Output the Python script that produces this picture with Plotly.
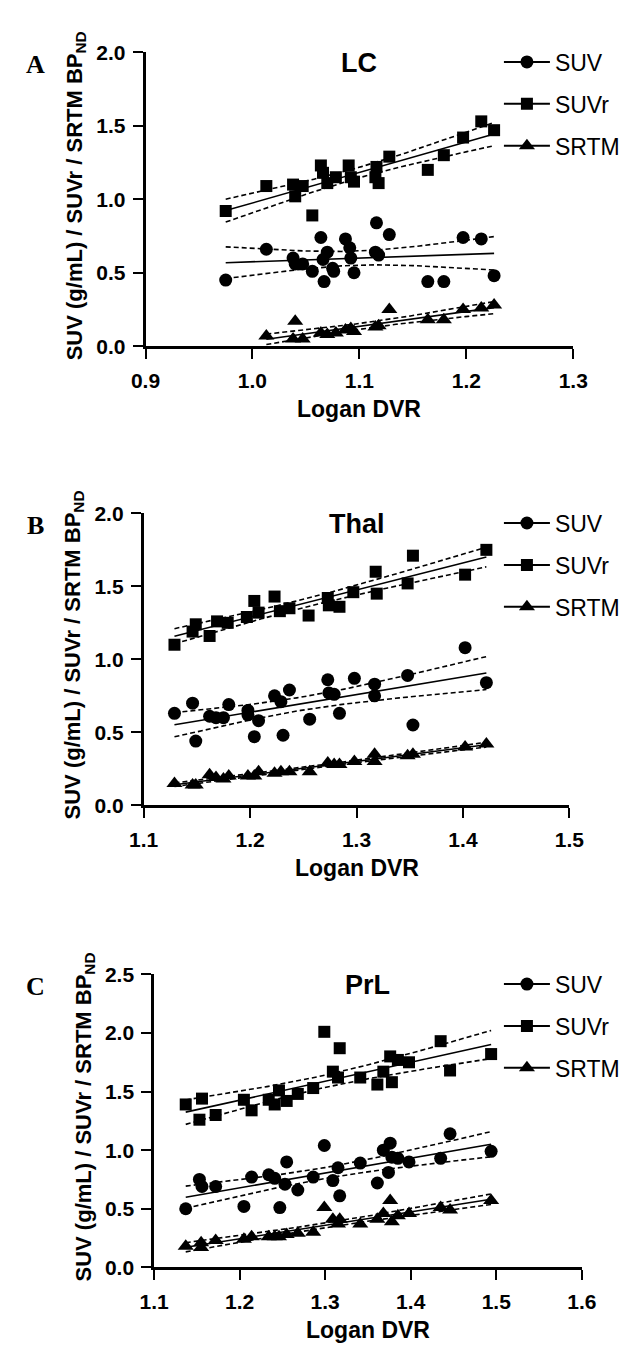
import numpy as np
import plotly.graph_objects as go

W, H = 633, 1356

# ---------------- data ----------------
A_suv_x = [0.975, 1.013, 1.038, 1.040, 1.047, 1.056, 1.064, 1.066, 1.067, 1.070, 1.075, 1.076, 1.087, 1.091, 1.092, 1.095, 1.115, 1.116, 1.118, 1.128, 1.164, 1.179, 1.197, 1.214, 1.226]
A_suv_y = [0.45, 0.66, 0.60, 0.56, 0.56, 0.51, 0.74, 0.59, 0.44, 0.64, 0.53, 0.51, 0.73, 0.67, 0.60, 0.50, 0.64, 0.84, 0.62, 0.76, 0.44, 0.44, 0.74, 0.73, 0.48]
A_suvr_x = [0.975, 1.013, 1.038, 1.040, 1.047, 1.056, 1.064, 1.066, 1.070, 1.078, 1.090, 1.092, 1.095, 1.115, 1.116, 1.118, 1.128, 1.164, 1.179, 1.197, 1.214, 1.226]
A_suvr_y = [0.92, 1.09, 1.10, 1.02, 1.09, 0.89, 1.23, 1.18, 1.11, 1.15, 1.23, 1.15, 1.12, 1.15, 1.22, 1.11, 1.29, 1.20, 1.30, 1.42, 1.53, 1.47]
A_srtm_x = [1.013, 1.038, 1.040, 1.047, 1.064, 1.070, 1.078, 1.087, 1.092, 1.095, 1.115, 1.118, 1.128, 1.164, 1.179, 1.197, 1.214, 1.226]
A_srtm_y = [0.07, 0.05, 0.17, 0.05, 0.09, 0.08, 0.09, 0.11, 0.12, 0.10, 0.13, 0.14, 0.25, 0.18, 0.18, 0.25, 0.26, 0.28]

B_suv_x = [1.129, 1.146, 1.149, 1.162, 1.168, 1.175, 1.180, 1.198, 1.198, 1.204, 1.208, 1.223, 1.229, 1.231, 1.237, 1.256, 1.273, 1.274, 1.279, 1.284, 1.298, 1.317, 1.317, 1.348, 1.353, 1.402, 1.422]
B_suv_y = [0.63, 0.70, 0.44, 0.61, 0.60, 0.60, 0.69, 0.62, 0.65, 0.47, 0.58, 0.75, 0.71, 0.48, 0.79, 0.59, 0.86, 0.77, 0.76, 0.63, 0.87, 0.83, 0.75, 0.89, 0.55, 1.08, 0.84]
B_suvr_x = [1.129, 1.146, 1.149, 1.162, 1.169, 1.179, 1.197, 1.204, 1.208, 1.223, 1.228, 1.237, 1.255, 1.273, 1.274, 1.284, 1.297, 1.318, 1.319, 1.348, 1.353, 1.402, 1.422]
B_suvr_y = [1.10, 1.19, 1.24, 1.16, 1.26, 1.25, 1.29, 1.40, 1.32, 1.43, 1.33, 1.35, 1.30, 1.42, 1.37, 1.36, 1.46, 1.60, 1.45, 1.52, 1.71, 1.58, 1.75]
B_srtm_x = [1.129, 1.146, 1.149, 1.162, 1.168, 1.175, 1.180, 1.198, 1.204, 1.208, 1.223, 1.229, 1.237, 1.256, 1.273, 1.279, 1.284, 1.298, 1.317, 1.317, 1.348, 1.353, 1.402, 1.422]
B_srtm_y = [0.15, 0.14, 0.14, 0.21, 0.19, 0.18, 0.20, 0.20, 0.20, 0.23, 0.22, 0.23, 0.23, 0.23, 0.29, 0.28, 0.28, 0.30, 0.35, 0.30, 0.34, 0.35, 0.40, 0.42]

C_suv_x = [1.137, 1.153, 1.156, 1.172, 1.205, 1.214, 1.234, 1.241, 1.247, 1.253, 1.255, 1.268, 1.286, 1.299, 1.309, 1.315, 1.317, 1.341, 1.361, 1.368, 1.374, 1.376, 1.378, 1.385, 1.398, 1.435, 1.446, 1.494]
C_suv_y = [0.50, 0.75, 0.69, 0.69, 0.52, 0.77, 0.79, 0.76, 0.51, 0.71, 0.90, 0.66, 0.77, 1.04, 0.74, 0.85, 0.61, 0.89, 0.72, 1.00, 0.81, 1.06, 0.94, 0.93, 0.90, 0.93, 1.14, 0.99]
C_suvr_x = [1.137, 1.153, 1.156, 1.172, 1.205, 1.214, 1.234, 1.241, 1.246, 1.255, 1.268, 1.286, 1.299, 1.309, 1.315, 1.317, 1.341, 1.361, 1.368, 1.376, 1.378, 1.385, 1.398, 1.435, 1.446, 1.494]
C_suvr_y = [1.39, 1.26, 1.44, 1.30, 1.43, 1.34, 1.43, 1.39, 1.51, 1.42, 1.48, 1.53, 2.01, 1.67, 1.62, 1.87, 1.62, 1.56, 1.67, 1.80, 1.58, 1.77, 1.75, 1.93, 1.68, 1.82]
C_srtm_x = [1.137, 1.155, 1.155, 1.172, 1.205, 1.214, 1.234, 1.241, 1.246, 1.255, 1.268, 1.286, 1.299, 1.309, 1.315, 1.317, 1.341, 1.361, 1.368, 1.376, 1.378, 1.385, 1.398, 1.435, 1.446, 1.494]
C_srtm_y = [0.18, 0.21, 0.17, 0.23, 0.24, 0.26, 0.26, 0.26, 0.26, 0.28, 0.29, 0.30, 0.51, 0.41, 0.37, 0.41, 0.37, 0.41, 0.46, 0.57, 0.39, 0.44, 0.46, 0.51, 0.49, 0.57]

panel_letters = ["A", "B", "C"]
panel_titles = ["LC", "Thal", "PrL"]
series_names = ["SUV", "SUVr", "SRTM"]
x_ranges = [[0.9, 1.3], [1.1, 1.5], [1.1, 1.6]]
y_ranges = [[0, 2.0], [0, 2.0], [0, 2.5]]
x_title = "Logan DVR"
y_title = "SUV (g/mL) / SUVr / SRTM BP<sub>ND</sub>"

panels = [
    [(A_suv_x, A_suv_y), (A_suvr_x, A_suvr_y), (A_srtm_x, A_srtm_y)],
    [(B_suv_x, B_suv_y), (B_suvr_x, B_suvr_y), (B_srtm_x, B_srtm_y)],
    [(C_suv_x, C_suv_y), (C_suvr_x, C_suvr_y), (C_srtm_x, C_srtm_y)],
]

# ---------------- layout geometry (pixels) ----------------
plot_px = [  # left, right, top, bottom
    (137, 586, 41, 340),
    (135, 582, 510, 807),
    (146, 595, 979, 1277),
]
symbols = ["circle", "square", "triangle-up"]
sizes = [13, 12, 14]


def px_x(p):
    return p / W


def px_y(p):
    return 1 - p / H


def tcrit(df):
    z = 1.959964
    return z + (z**3 + z) / (4 * df) + (5 * z**5 + 16 * z**3 + 3 * z) / (96 * df**2)


def fit(x, y):
    x = np.asarray(x, float)
    y = np.asarray(y, float)
    n = len(x)
    b, a = np.polyfit(x, y, 1)
    xs = np.linspace(x.min(), x.max(), 80)
    yh = a + b * xs
    res = y - (a + b * x)
    s = np.sqrt(np.sum(res**2) / (n - 2))
    sxx = np.sum((x - x.mean()) ** 2)
    se = s * np.sqrt(1.0 / n + (xs - x.mean()) ** 2 / sxx)
    t = tcrit(n - 2)
    return xs, yh, yh - t * se, yh + t * se


fig = go.Figure()
tick_font = dict(family="Arial, Liberation Sans", size=21, color="black", weight="bold")
annotations = []

for i in range(3):
    ax = "" if i == 0 else str(i + 1)
    xa, ya = "x" + ax, "y" + ax
    leg = "legend" + ax
    L, R, T, B = plot_px[i]
    for j, (xs_, ys_) in enumerate(panels[i]):
        xf, yf, lo, hi = fit(xs_, ys_)
        fig.add_trace(go.Scatter(x=xf, y=lo, mode="lines", line=dict(color="black", width=1.6, dash="5px,3px"),
                                 xaxis=xa, yaxis=ya, showlegend=False, hoverinfo="skip"))
        fig.add_trace(go.Scatter(x=xf, y=hi, mode="lines", line=dict(color="black", width=1.6, dash="5px,3px"),
                                 xaxis=xa, yaxis=ya, showlegend=False, hoverinfo="skip"))
        fig.add_trace(go.Scatter(x=xf, y=yf, mode="lines", line=dict(color="black", width=1.6),
                                 xaxis=xa, yaxis=ya, showlegend=False, hoverinfo="skip"))
        fig.add_trace(go.Scatter(x=xs_, y=ys_, mode="markers",
                                 marker=dict(symbol=symbols[j], size=sizes[j], color="black"),
                                 xaxis=xa, yaxis=ya, showlegend=False, cliponaxis=False,
                                 name=series_names[j]))
        # legend entry
        fig.add_trace(go.Scatter(x=[None], y=[None], mode="lines+markers",
                                 marker=dict(symbol=symbols[j], size=sizes[j], color="black"),
                                 line=dict(color="black", width=2),
                                 xaxis=xa, yaxis=ya, name=series_names[j], legend=leg,
                                 legendgroup=f"{i}_{j}", showlegend=True))

    axis_common = dict(showline=True, linecolor="black", linewidth=2.6, ticks="outside", ticklen=10,
                       tickwidth=2.4, tickcolor="black", showgrid=False, zeroline=False,
                       tickfont=tick_font, fixedrange=True)
    fig.update_layout(**{
        "xaxis" + ax: dict(domain=[px_x(L), px_x(R)], range=x_ranges[i], dtick=0.1, tickformat=".1f",
                           anchor=ya, ticklabelstandoff=4, **axis_common),
        "yaxis" + ax: dict(domain=[px_y(B), px_y(T)], range=y_ranges[i], dtick=0.5, tickformat=".1f",
                           anchor=xa, ticklabelstandoff=3, **axis_common),
        leg: dict(x=px_x(508), y=px_y(T - 12), xanchor="left", yanchor="top", itemwidth=46,
                  font=dict(family="Arial, Liberation Sans", size=23, color="black"),
                  tracegroupgap=9, bgcolor="rgba(0,0,0,0)", traceorder="grouped"),
    })

    # panel title
    annotations.append(dict(text=f"<b>{panel_titles[i]}</b>", x=px_x((L + R) / 2), y=px_y(T + 11),
                            xref="paper", yref="paper", showarrow=False, xanchor="center", yanchor="middle",
                            font=dict(family="Arial, Liberation Sans", size=27, color="black")))
    # panel letter
    annotations.append(dict(text=f"<b>{panel_letters[i]}</b>", x=px_x(22), y=px_y(T + 12),
                            xref="paper", yref="paper", showarrow=False, xanchor="center", yanchor="middle",
                            font=dict(family="Times New Roman, Liberation Serif", size=26, color="black")))
    # x title
    annotations.append(dict(text=f"<b>{x_title}</b>", x=px_x((L + R) / 2), y=px_y(B + 64),
                            xref="paper", yref="paper", showarrow=False, xanchor="center", yanchor="middle",
                            font=dict(family="Arial, Liberation Sans", size=23, color="black")))
    # y title
    annotations.append(dict(text=f"<b>{y_title}</b>", x=px_x(L - 73), y=px_y((T + B) / 2 - 4),
                            xref="paper", yref="paper", showarrow=False, xanchor="center", yanchor="middle",
                            textangle=-90,
                            font=dict(family="Arial, Liberation Sans", size=22, color="black")))

fig.update_layout(width=W, height=H, margin=dict(l=0, r=0, t=0, b=0), paper_bgcolor="white",
                  plot_bgcolor="white", annotations=annotations, showlegend=True)

fig.write_html("out.html")
